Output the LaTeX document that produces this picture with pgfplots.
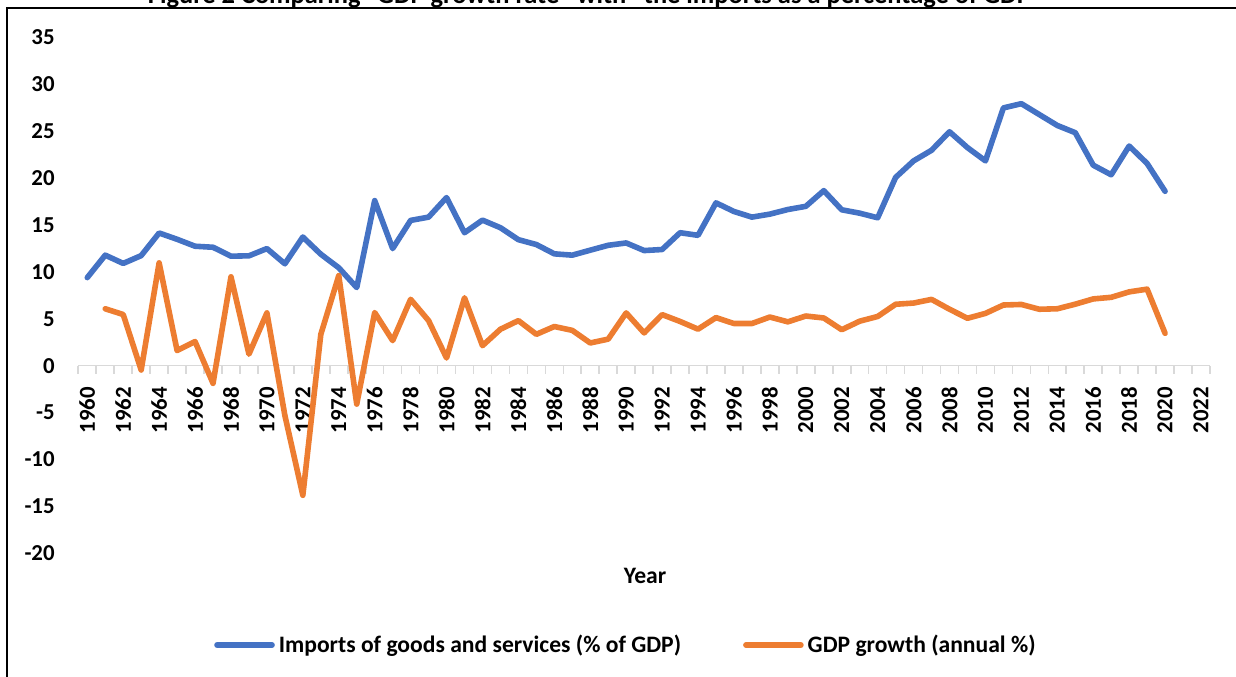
\documentclass[border=0pt]{standalone}
\usepackage{graphicx}
\usepackage{fontspec}
\setmainfont{Carlito}
\usepackage{pgfplots}
\pgfplotsset{compat=1.18}
\usepackage{pgfplotstable}
\definecolor{impblue}{HTML}{4472C4}
\definecolor{gdporange}{HTML}{ED7D31}
\definecolor{axgray}{HTML}{D9D9D9}

\pgfplotstableread{
year imports
1960 9.38
1961 11.77
1962 10.89
1963 11.72
1964 14.13
1965 13.46
1966 12.72
1967 12.61
1968 11.66
1969 11.70
1970 12.47
1971 10.85
1972 13.70
1973 11.87
1974 10.43
1975 8.32
1976 17.58
1977 12.47
1978 15.47
1979 15.82
1980 17.90
1981 14.16
1982 15.50
1983 14.69
1984 13.42
1985 12.90
1986 11.91
1987 11.77
1988 12.30
1989 12.82
1990 13.07
1991 12.26
1992 12.37
1993 14.16
1994 13.88
1995 17.34
1996 16.42
1997 15.82
1998 16.14
1999 16.63
2000 16.97
2001 18.64
2002 16.60
2003 16.24
2004 15.75
2005 20.05
2006 21.81
2007 22.94
2008 24.91
2009 23.22
2010 21.81
2011 27.45
2012 27.90
2013 26.74
2014 25.58
2015 24.81
2016 21.35
2017 20.33
2018 23.39
2019 21.53
2020 18.57
}\imports

\pgfplotstableread{
year gdp
1961 6.06
1962 5.45
1963 -0.46
1964 10.95
1965 1.61
1966 2.57
1967 -1.88
1968 9.46
1969 1.23
1970 5.62
1971 -5.30
1972 -13.80
1973 3.33
1974 9.59
1975 -4.09
1976 5.66
1977 2.67
1978 7.07
1979 4.80
1980 0.82
1981 7.23
1982 2.13
1983 3.88
1984 4.80
1985 3.34
1986 4.17
1987 3.76
1988 2.42
1989 2.83
1990 5.62
1991 3.49
1992 5.44
1993 4.71
1994 3.89
1995 5.12
1996 4.49
1997 4.49
1998 5.18
1999 4.67
2000 5.29
2001 5.08
2002 3.83
2003 4.74
2004 5.24
2005 6.54
2006 6.67
2007 7.06
2008 6.01
2009 5.05
2010 5.57
2011 6.46
2012 6.52
2013 6.01
2014 6.06
2015 6.55
2016 7.11
2017 7.28
2018 7.86
2019 8.15
2020 3.45
}\gdp

\begin{document}
\begin{tikzpicture}
\useasboundingbox (-39.15pt,-61.25pt) rectangle (578.85pt,276.75pt);
\clip (-39.15pt,-61.25pt) rectangle (578.85pt,276.75pt);
% outer chart frame (cut by the picture at right and bottom)
\draw[black, line width=1.2pt] (-35.65pt,-80pt) -- (-35.65pt,272.75pt) -- (600pt,272.75pt);
% title, mostly cut off at the top (as in the reference)
\node[anchor=base, inner sep=0pt] at (258.6pt,274.75pt)
  {\resizebox{447.5pt}{!}{\bfseries Figure 2 Comparing "GDP growth rate" with "the imports as a percentage of GDP"}};
\begin{axis}[
  at={(0pt,0pt)}, anchor=south west,
  scale only axis,
  width=565.85pt, height=258.25pt,
  xmin=1959.5, xmax=2022.5,
  ymin=-20, ymax=35,
  axis x line*=middle,
  axis y line*=left,
  x axis line style={draw=axgray, line width=0.8pt},
  y axis line style={draw=none},
  xtick={1960,1962,...,2022},
  xticklabels={1960,1962,1964,1966,1968,1970,1972,1974,1976,1978,1980,1982,1984,1986,1988,1990,1992,1994,1996,1998,2000,2002,2004,2006,2008,2010,2012,2014,2016,2018,2020,2022},
  minor xtick={1959.5,1960.5,...,2022.5},
  major x tick style={draw=none},
  minor x tick style={draw=axgray, line width=0.8pt},
  xtick align=outside,
  minor tick length=4pt,
  major tick length=0pt,
  ytick={-20,-15,...,35},
  yticklabels={-20,-15,-10,-5,0,5,10,15,20,25,30,35},
  ytick style={draw=none},
  xticklabel style={rotate=90, anchor=east, inner sep=0pt, font=\fontsize{11.4}{13}\selectfont\bfseries},
  xticklabel shift=10.5pt,
  yticklabel style={anchor=east, inner sep=0pt, xshift=-11.65pt, font=\fontsize{11.4}{13}\selectfont\bfseries},
  xlabel={Year},
  xlabel style={at={(axis description cs:0.5008,-0.0436)}, anchor=center, inner sep=0pt, font=\fontsize{11.8}{14}\selectfont\bfseries},
  legend columns=2,
  legend style={at={(0.4848,-0.1772)}, anchor=center, draw=none, fill=none,
    font=\fontsize{11.8}{14}\selectfont\bfseries,
    /tikz/every even column/.append style={column sep=29pt}},
  legend image code/.code={\draw[#1] (0pt,0pt) -- (27.5pt,0pt);},
  every axis plot/.append style={line width=2.8pt, line join=round, line cap=round},
]
\addplot[impblue, mark=none] table[x=year, y=imports] {\imports};
\addlegendentry{Imports of goods and services (\% of GDP)}
\addplot[gdporange, mark=none] table[x=year, y=gdp] {\gdp};
\addlegendentry{GDP growth (annual \%)}
\end{axis}
\end{tikzpicture}
\end{document}
